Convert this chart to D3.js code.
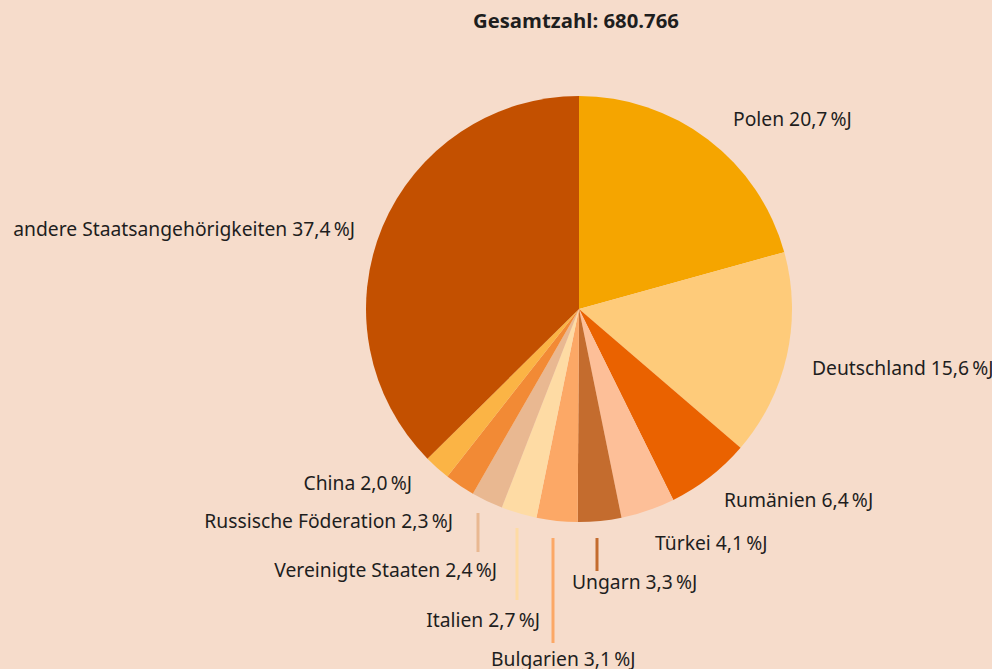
<!DOCTYPE html>
<html>
<head>
<meta charset="utf-8">
<script src="https://cdn.jsdelivr.net/npm/d3@7"></script>
<style>
  body { margin: 0; background: #f6dccb; }
  svg { display: block; }
  .lbl { font-family: "Noto Sans", "Open Sans", sans-serif; font-size: 19.3px; fill: #1e1e1e; }
  .title { font-family: "Open Sans", "Noto Sans", sans-serif; font-size: 20.3px; font-weight: bold; fill: #1e1e1e; }
</style>
</head>
<body>
<div id="chart"></div>
<script>
const countries = ["Polen", "Deutschland", "Rumänien", "Türkei", "Ungarn", "Bulgarien",
    "Italien", "Vereinigte Staaten", "Russische Föderation", "China", "andere Staatsangehörigkeiten"];
const shares = [20.7, 15.6, 6.4, 4.1, 3.3, 3.1, 2.7, 2.4, 2.3, 2.0, 37.4];
const colors = ["#f5a500", "#fecb7a", "#ea6200", "#fdbf98", "#c46c2e", "#fca866",
    "#fedba4", "#e9b891", "#f28a35", "#fbb445", "#c35000"];
const total = "680.766";

// label placement: x, baseline y, anchor
const labelPos = [
    [733, 126, "start"], [812, 375, "start"], [724, 507, "start"], [655, 550, "start"],
    [572, 589, "start"], [491, 666, "start"], [540, 627, "end"], [497, 577, "end"],
    [453, 528, "end"], [412, 490, "end"], [355, 236, "end"]
];
// vertical leader lines: index, x, y1, y2
const leaders = [[7, 478, 513, 552], [6, 517, 528, 600], [5, 553, 538, 643], [4, 597, 538, 571]];

const width = 992, height = 669;
const cx = 579, cy = 309, radius = 213;

const svg = d3.select("#chart").append("svg")
    .attr("width", width)
    .attr("height", height);

svg.append("text")
    .attr("class", "title")
    .attr("x", 576)
    .attr("y", 28)
    .attr("text-anchor", "middle")
    .text("Gesamtzahl: " + total);

const data = countries.map((c, i) => ({ name: c, value: shares[i], i: i }));

const pie = d3.pie().value(d => d.value).sort(null);
const arc = d3.arc().innerRadius(0).outerRadius(radius);

svg.append("g")
    .attr("transform", "translate(" + cx + "," + cy + ")")
  .selectAll("path")
    .data(pie(data))
    .enter()
    .append("path")
    .attr("d", arc)
    .attr("fill", d => colors[d.data.i]);

svg.selectAll("line.leader")
    .data(leaders)
    .enter()
    .append("line")
    .attr("class", "leader")
    .attr("x1", d => d[1]).attr("x2", d => d[1])
    .attr("y1", d => d[2]).attr("y2", d => d[3])
    .attr("stroke", d => colors[d[0]])
    .attr("stroke-width", 3);

const fmt = v => String(v.toFixed(1)).replace(".", ",");

svg.selectAll("text.lbl")
    .data(data)
    .enter()
    .append("text")
    .attr("class", "lbl")
    .attr("x", d => labelPos[d.i][0])
    .attr("y", d => labelPos[d.i][1])
    .attr("text-anchor", d => labelPos[d.i][2])
    .text(d => d.name + " " + fmt(d.value) + "\u2009%J");
</script>
</body>
</html>
